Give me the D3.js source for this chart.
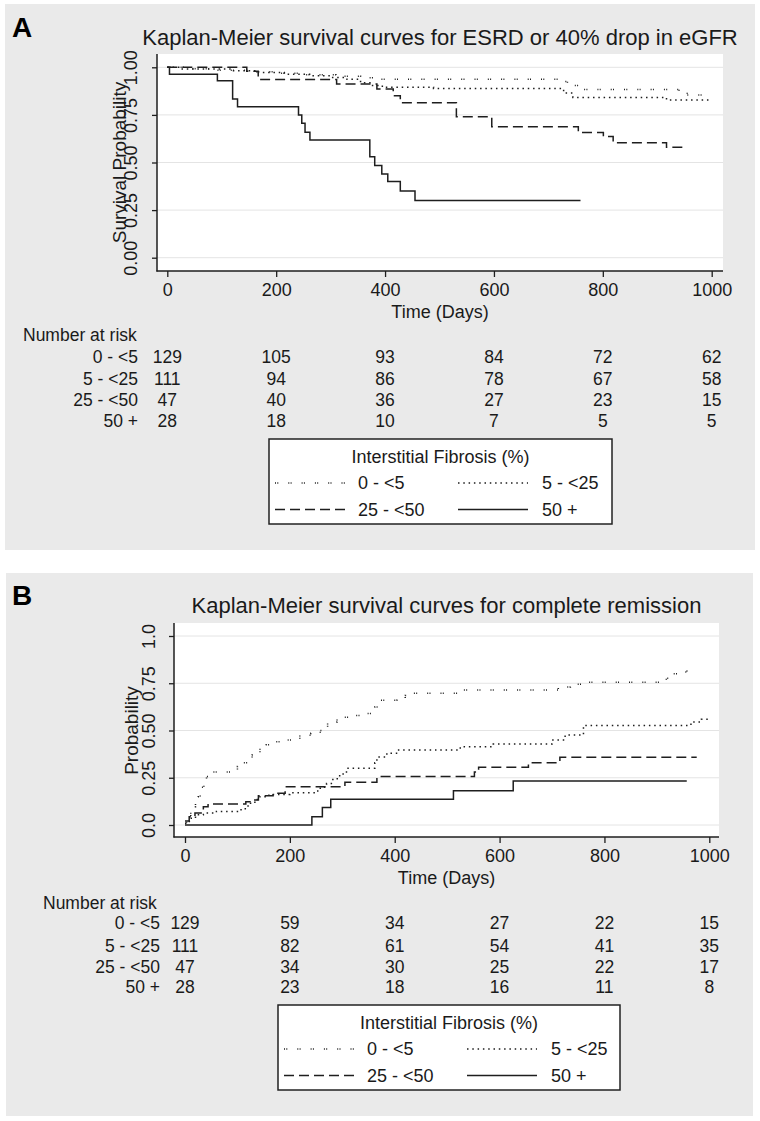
<!DOCTYPE html>
<html><head><meta charset="utf-8">
<script src="https://cdn.jsdelivr.net/npm/d3@7"></script>
<style>
body{margin:0;background:#fff}
svg{display:block}
text{font-family:"Liberation Sans",Arial,Helvetica,sans-serif;fill:#1a1a1a}
</style>
</head><body>
<svg id="c" width="760" height="1121"></svg>
<script>
// ---------- data ----------
const groups = ["0 - <5", "5 - <25", "25 - <50", "50 +"];
const xTicks = [0, 200, 400, 600, 800, 1000];
const riskTimes = [0, 200, 400, 600, 800, 1000];
const yTicks = [0, 0.25, 0.5, 0.75, 1];
const yTickLabelsA = ["0.00", "0.25", "0.50", "0.75", "1.00"];
const yTickLabelsB = ["0.0", "0.25", "0.50", "0.75", "1.0"];
const titleA = "Kaplan-Meier survival curves for ESRD or 40% drop in eGFR";
const titleB = "Kaplan-Meier survival curves for complete remission";
const legendTitle = "Interstitial Fibrosis (%)";

// Panel A: survival (time in days, probability)
const esrd_0_5 = [[0,1],[35,0.992],[90,0.984],[150,0.977],[200,0.969],[255,0.961],[310,0.953],[355,0.945],[385,0.937],[722,0.925],[735,0.905],[758,0.884],[940,0.868],[955,0.855],[985,0.855]];
const esrd_5_25 = [[0,1],[25,0.991],[120,0.982],[165,0.973],[215,0.964],[265,0.955],[300,0.946],[330,0.937],[355,0.919],[375,0.905],[395,0.895],[489,0.889],[728,0.865],[745,0.842],[917,0.828],[1000,0.828]];
const esrd_25_50 = [[0,1],[146,0.979],[167,0.936],[311,0.912],[385,0.886],[415,0.85],[428,0.814],[531,0.74],[596,0.688],[755,0.657],[801,0.636],[819,0.604],[917,0.58],[951,0.58]];
const esrd_50 = [[0,1],[4,0.964],[92,0.929],[120,0.833],[129,0.793],[241,0.75],[247,0.706],[253,0.659],[262,0.618],[372,0.53],[381,0.484],[394,0.44],[405,0.40],[428,0.35],[455,0.30],[759,0.30]];

// Panel B: cumulative probability of complete remission
const cr_0_5 = [[0,0.008],[3,0.023],[7,0.047],[11,0.07],[16,0.097],[20,0.12],[25,0.15],[29,0.175],[32,0.2],[36,0.225],[41,0.256],[54,0.28],[100,0.31],[108,0.33],[128,0.37],[135,0.385],[143,0.41],[155,0.425],[170,0.44],[188,0.45],[219,0.475],[240,0.485],[258,0.5],[264,0.52],[272,0.545],[290,0.56],[302,0.57],[321,0.58],[345,0.59],[362,0.625],[368,0.645],[372,0.66],[404,0.672],[420,0.685],[435,0.697],[520,0.705],[530,0.714],[712,0.73],[735,0.745],[760,0.755],[918,0.776],[922,0.80],[955,0.815],[968,0.815]];
const cr_5_25 = [[0,0.009],[5,0.018],[12,0.036],[20,0.054],[35,0.063],[60,0.072],[100,0.081],[115,0.10],[125,0.12],[135,0.135],[143,0.15],[160,0.162],[200,0.171],[250,0.18],[258,0.2],[270,0.22],[282,0.245],[295,0.27],[308,0.3],[362,0.33],[366,0.36],[385,0.38],[405,0.397],[525,0.414],[588,0.428],[700,0.45],[725,0.476],[760,0.527],[965,0.545],[985,0.56],[1000,0.56]];
const cr_25_50 = [[0,0.021],[8,0.043],[19,0.064],[35,0.097],[44,0.111],[116,0.123],[124,0.132],[140,0.155],[168,0.168],[191,0.203],[305,0.226],[366,0.256],[552,0.28],[560,0.305],[655,0.33],[715,0.358],[976,0.358]];
const cr_50 = [[0,0],[242,0.044],[262,0.092],[278,0.136],[512,0.181],[626,0.233],[957,0.233]];

// Number at risk
const riskA_0_5 = [129,105,93,84,72,62];
const riskA_5_25 = [111,94,86,78,67,58];
const riskA_25_50 = [47,40,36,27,23,15];
const riskA_50 = [28,18,10,7,5,5];
const riskB_0_5 = [129,59,34,27,22,15];
const riskB_5_25 = [111,82,61,54,41,35];
const riskB_25_50 = [47,34,30,25,22,17];
const riskB_50 = [28,23,18,16,11,8];

// ---------- styles / layout ----------
const lineStyles = [
  {dash:"1,1.3,1,10", w:1.5},
  {dash:"1.5,3.8", w:1.5},
  {dash:"10,5", w:1.5},
  {dash:null, w:1.5}
];
const ink = "#1e1e1e";

const svg = d3.select("#c");

function drawPanel(cfg) {
  const g = svg.append("g");
  g.append("rect").attr("x", cfg.bg[0]).attr("y", cfg.bg[1]).attr("width", cfg.bg[2]).attr("height", cfg.bg[3]).attr("fill", "#eaeaea");
  const p = cfg.plot;
  g.append("rect").attr("x", p.l).attr("y", p.t).attr("width", p.r - p.l).attr("height", p.b - p.t).attr("fill", "#fff");

  const x = d3.scaleLinear().domain([0, 1000]).range(cfg.xr);
  const y = d3.scaleLinear().domain([0, 1]).range(cfg.yr);

  // grid
  g.append("g").selectAll("line").data(yTicks).join("line")
    .attr("x1", p.l).attr("x2", p.r).attr("y1", d => y(d)).attr("y2", d => y(d))
    .attr("stroke", "#e4e4e4").attr("stroke-width", 1);

  // curves
  const line = d3.line().x(d => x(d[0])).y(d => y(d[1])).curve(d3.curveStepAfter);
  cfg.curves.forEach((c, i) => {
    g.append("path").attr("d", line(c)).attr("fill", "none")
      .attr("stroke", ink).attr("stroke-width", lineStyles[i].w)
      .attr("stroke-dasharray", lineStyles[i].dash);
  });

  // axes
  const ya = g.append("g").attr("transform", `translate(${p.l},0)`)
    .call(d3.axisLeft(y).tickValues(yTicks).tickSize(5).tickSizeOuter(0).tickFormat((d, i) => cfg.yLabels[i]));
  ya.select(".domain").remove();
  ya.selectAll(".tick line").attr("stroke", ink).attr("stroke-width", 1.3);
  ya.selectAll(".tick text").attr("x", null).attr("dy", "0.35em").attr("text-anchor", "middle")
    .attr("transform", `translate(${cfg.yTickX - p.l},0) rotate(-90)`)
    .style("font-size", "18px");
  const xa = g.append("g").attr("transform", `translate(0,${p.b})`)
    .call(d3.axisBottom(x).tickValues(xTicks).tickSize(6).tickSizeOuter(0).tickFormat(d3.format("d")));
  xa.select(".domain").remove();
  xa.selectAll(".tick line").attr("stroke", ink).attr("stroke-width", 1.3);
  xa.selectAll(".tick text").attr("y", 19).attr("dy", "0.35em").style("font-size", "18px");
  g.append("line").attr("x1", p.l).attr("x2", p.l).attr("y1", p.t).attr("y2", p.b + 0.6).attr("stroke", ink).attr("stroke-width", 1.5);
  g.append("line").attr("x1", p.l - 0.6).attr("x2", p.r).attr("y1", p.b).attr("y2", p.b).attr("stroke", ink).attr("stroke-width", 1.5);

  // labels
  g.append("text").attr("x", cfg.tag.x).attr("y", cfg.tag.y).text(cfg.tag.t)
    .style("font-size", "28px").style("font-weight", "bold").style("fill", "#000");
  g.append("text").attr("x", (p.l + p.r) / 2).attr("y", cfg.titleY).attr("text-anchor", "middle")
    .text(cfg.title).style("font-size", "22px");
  g.append("text").attr("transform", `translate(${cfg.yLabelX},${(y(0) + y(1)) / 2}) rotate(-90)`)
    .attr("dy", "0.35em").attr("text-anchor", "middle").text(cfg.yLabel).style("font-size", "19px");
  g.append("text").attr("x", (p.l + p.r) / 2).attr("y", cfg.xLabelY).attr("dy", "0.35em")
    .attr("text-anchor", "middle").text("Time (Days)").style("font-size", "18px");

  // risk table
  const r = cfg.risk;
  g.append("text").attr("x", r.headX).attr("y", r.headY).attr("dy", "0.35em")
    .text("Number at risk").style("font-size", "17.5px");
  cfg.riskRows.forEach((row, i) => {
    g.append("text").attr("x", r.labRight).attr("y", r.rowsY[i]).attr("dy", "0.35em")
      .attr("text-anchor", "end").text(groups[i]).style("font-size", "17.5px");
    g.append("g").selectAll("text").data(row).join("text")
      .attr("x", (d, j) => x(riskTimes[j])).attr("y", r.rowsY[i]).attr("dy", "0.35em")
      .attr("text-anchor", "middle").text(d => d).style("font-size", "17.5px");
  });

  // legend
  const L = cfg.legend;
  const lg = g.append("g").attr("transform", `translate(${L.x},${L.y})`);
  lg.append("rect").attr("width", L.w).attr("height", L.h).attr("fill", "#fff")
    .attr("stroke", "#222").attr("stroke-width", 1.5);
  lg.append("text").attr("x", L.w / 2).attr("y", 18).attr("dy", "0.35em").attr("text-anchor", "middle")
    .text(legendTitle).style("font-size", "18px");
  const cols = [[6, 77, 89], [189, 259, 273]];
  const rows = [44, 70.5];
  groups.forEach((name, i) => {
    const c = cols[i % 2], ry = rows[Math.floor(i / 2)];
    lg.append("line").attr("x1", c[0]).attr("x2", c[1]).attr("y1", ry).attr("y2", ry)
      .attr("stroke", ink).attr("stroke-width", lineStyles[i].w).attr("stroke-dasharray", lineStyles[i].dash);
    lg.append("text").attr("x", c[2]).attr("y", ry).attr("dy", "0.35em").text(name).style("font-size", "18px");
  });
}

drawPanel({
  bg: [5, 4, 750, 546],
  plot: {l: 157, r: 723, t: 54, b: 271},
  xr: [167.3, 711.7], yr: [257.7, 67.3],
  tag: {x: 12, y: 37, t: "A"},
  title: titleA, titleY: 45,
  yLabels: yTickLabelsA, yTickX: 131, yLabelX: 119, yLabel: "Survival Probability",
  xLabelY: 311.7,
  curves: [esrd_0_5, esrd_5_25, esrd_25_50, esrd_50],
  riskRows: [riskA_0_5, riskA_5_25, riskA_25_50, riskA_50],
  risk: {headX: 23, headY: 335, labRight: 138, rowsY: [356.7, 379, 400, 420.7]},
  legend: {x: 269, y: 439, w: 343, h: 85}
});
drawPanel({
  bg: [6, 573, 747, 543],
  plot: {l: 174, r: 719, t: 623, b: 837},
  xr: [185, 709.3], yr: [825, 636],
  tag: {x: 12, y: 605, t: "B"},
  title: titleB, titleY: 613.3,
  yLabels: yTickLabelsB, yTickX: 149, yLabelX: 131, yLabel: "Probability",
  xLabelY: 878,
  curves: [cr_0_5, cr_5_25, cr_25_50, cr_50],
  riskRows: [riskB_0_5, riskB_5_25, riskB_25_50, riskB_50],
  risk: {headX: 43, headY: 903, labRight: 160, rowsY: [923, 946, 967, 987]},
  legend: {x: 278, y: 1005, w: 342, h: 85}
});
</script>
</body></html>
